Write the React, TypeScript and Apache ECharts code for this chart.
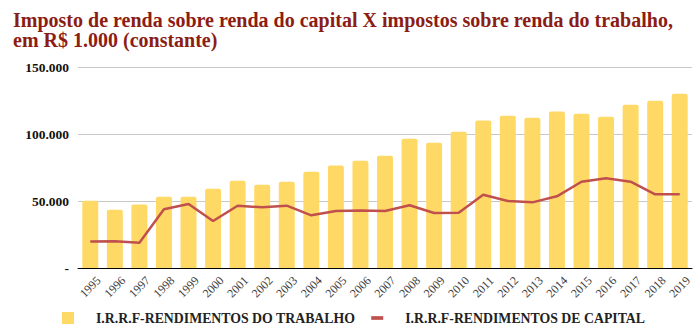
import React, { useEffect, useRef } from "react";
import * as echarts from "echarts";

const years = ["1995","1996","1997","1998","1999","2000","2001","2002","2003","2004","2005","2006","2007","2008","2009","2010","2011","2012","2013","2014","2015","2016","2017","2018","2019"];
const trabalho = [50200,43500,47300,53200,53200,59200,65200,62200,64400,71900,76400,80100,83800,96500,93500,101700,110000,113700,112200,116700,115200,112900,121900,124900,130100];
const capital = [19700,19900,18900,43800,47800,35100,46500,45300,46500,39300,42500,43000,42500,46800,41000,41300,54700,50000,49000,53500,64400,66900,64400,55000,55000];
const yTicks = [0, 50000, 100000, 150000];

const titleText = "Imposto de renda sobre renda do capital X impostos sobre renda do trabalho,\nem R$ 1.000 (constante)";
const serieNames = ["I.R.R.F-RENDIMENTOS DO TRABALHO", "I.R.R.F-RENDIMENTOS DE CAPITAL"];

const FONT = "'Liberation Serif', 'Times New Roman', serif";

function fmt(v: number): string {
  if (v === 0) return "-";
  return String(Math.round(v)).replace(/\B(?=(\d{3})+(?!\d))/g, ".");
}

export default function App() {
  const ref = useRef<HTMLDivElement>(null);
  useEffect(() => {
    if (!ref.current) return;
    const chart = echarts.init(ref.current, undefined, { renderer: "svg" });
    chart.setOption({
      animation: false,
      backgroundColor: "#ffffff",
      title: {
        text: titleText,
        left: 8,
        top: 5,
        textStyle: {
          fontFamily: FONT,
          fontWeight: "bold",
          fontSize: 20,
          lineHeight: 20,
          color: "#8B1D14",
        },
      },
      legend: {
        left: 57,
        top: 306,
        itemWidth: 12,
        itemHeight: 12,
        itemGap: 16,
        formatter: (name: string) => `{t|${name}}`,
        textStyle: {
          fontFamily: FONT,
          fontWeight: "bold",
          fontSize: 13.8,
          color: "#222222",
          rich: {
            t: {
              fontFamily: FONT,
              fontWeight: "bold",
              fontSize: 13.8,
              lineHeight: 14,
              color: "#222222",
              padding: [0, 0, 0, 17],
            },
          },
        },
        data: [
          { name: serieNames[0], icon: "rect" },
          { name: serieNames[1], icon: "path://M0,0H13V4H0Z" },
        ],
      },
      grid: { left: 78, right: 7, top: 67, bottom: 62, containLabel: false },
      xAxis: {
        type: "category",
        data: years,
        axisLine: { show: true, lineStyle: { color: "#000000", width: 1 } },
        axisTick: { show: false },
        axisLabel: {
          rotate: 45,
          align: "center",
          verticalAlign: "middle",
          fontFamily: FONT,
          fontSize: 12,
          color: "#404040",
          margin: 19,
          interval: 0,
        },
      },
      yAxis: {
        type: "value",
        min: yTicks[0],
        max: yTicks[yTicks.length - 1],
        interval: yTicks[1] - yTicks[0],
        axisLine: { show: false },
        axisTick: { show: false },
        splitLine: { lineStyle: { color: "#C8C8C8", width: 1 } },
        axisLabel: {
          formatter: (v: number) => fmt(v),
          fontFamily: FONT,
          fontWeight: "bold",
          fontSize: 13.5,
          color: "#111111",
          margin: 9,
        },
      },
      series: [
        {
          name: serieNames[0],
          type: "bar",
          data: trabalho,
          barCategoryGap: "35%",
          itemStyle: { color: "#FFD966", borderRadius: [2, 2, 0, 0] },
        },
        {
          name: serieNames[1],
          type: "line",
          data: capital,
          symbol: "none",
          lineStyle: { color: "#C0504D", width: 2.5 },
          itemStyle: { color: "#C0504D" },
        },
      ],
    });
    return () => chart.dispose();
  }, []);
  return (
    <div
      ref={ref}
      style={{ position: "absolute", left: 0, top: 0, width: 699, height: 330 }}
    />
  );
}
